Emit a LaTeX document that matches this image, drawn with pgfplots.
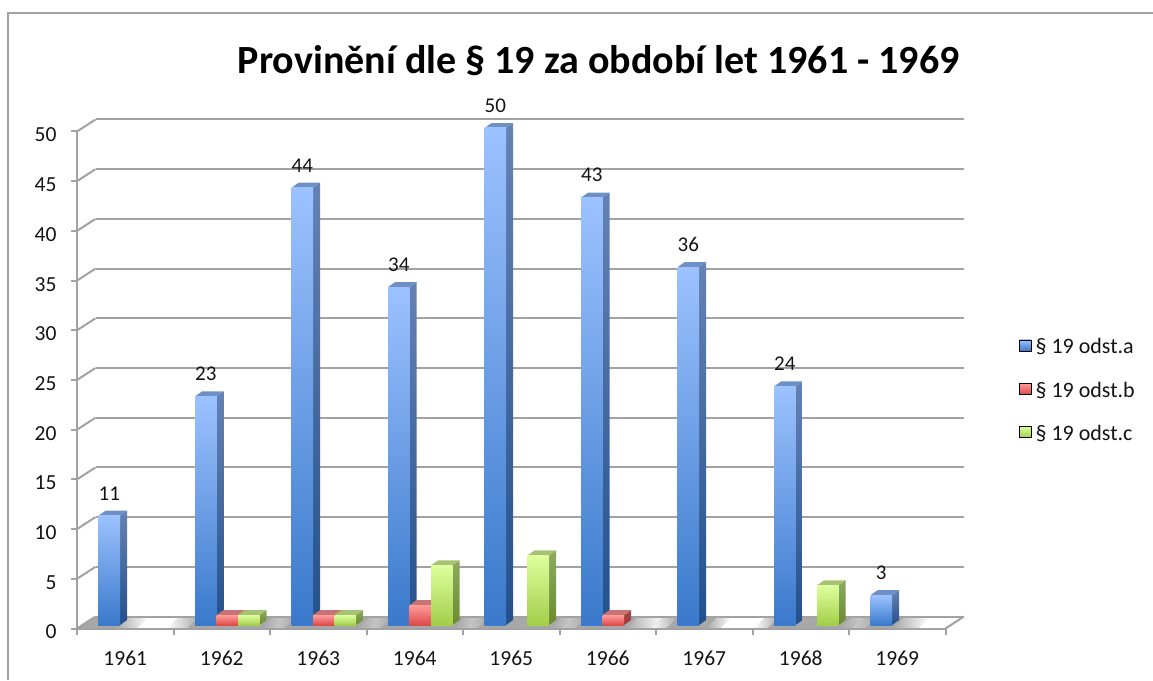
\documentclass[border=0pt]{standalone}
\usepackage{fontspec}
\setmainfont{Carlito}
\usepackage{pgfplots}
\pgfplotsset{compat=1.18}

\definecolor{gridc}{HTML}{A2A2A2}
\definecolor{floorc}{HTML}{A8A8A8}
\definecolor{txt}{HTML}{141414}
\definecolor{atop}{HTML}{9CC2FF}
\definecolor{abot}{HTML}{3A79CB}
\definecolor{asidet}{HTML}{6482B4}
\definecolor{asideb}{HTML}{23508C}
\definecolor{atopf}{HTML}{6F90C6}
\definecolor{btop}{HTML}{FF9C9C}
\definecolor{bbot}{HTML}{DC4A4A}
\definecolor{bsidet}{HTML}{A84C4C}
\definecolor{bsideb}{HTML}{A03232}
\definecolor{btopf}{HTML}{C87474}
\definecolor{ctop}{HTML}{DEFF9E}
\definecolor{cbot}{HTML}{A2CE4A}
\definecolor{csidet}{HTML}{8CAA60}
\definecolor{csideb}{HTML}{6A8A30}
\definecolor{ctopf}{HTML}{A6C272}

% one bar with side and top face: category, bar shift in pt, value, series, extra options
\newcommand\onebar[5][]{%
  \pgfmathsetmacro\xc{#2+0.5}%
  \pgfmathsetmacro\xl{\xc+(#3-10.75)/96.5}%
  \pgfmathsetmacro\xr{\xc+(#3+10.75)/96.5}%
  \pgfmathsetmacro\xld{\xl+0.0735}%
  \pgfmathsetmacro\xrd{\xr+0.0735}%
  \pgfmathsetmacro\yb{0.35}%
  \pgfmathsetmacro\ybd{0.85}%
  \pgfmathsetmacro\yt{#4+0.35}%
  \pgfmathsetmacro\ytd{#4+0.85}%
  \addplot[forget plot,draw=none,top color=#5sidet,bottom color=#5sideb]
    coordinates {(\xr,\yb) (\xrd,\ybd) (\xrd,\ytd) (\xr,\yt)} --cycle;
  \addplot[forget plot,draw=none,fill=#5topf]
    coordinates {(\xl,\yt) (\xld,\ytd) (\xrd,\ytd) (\xr,\yt)} --cycle;
  \addplot[forget plot,ybar,bar width=21.5pt,bar shift=#3pt,draw=none,yshift=3.5pt,
    top color=#5top,bottom color=#5bot,#1] coordinates {(\xc,#4)};
}

% white gaps in the floor, px along the middle of the floor
\newcommand\fade[5][white]{%
  \shade[left color=floorc,right color=#1] (#2-6,628.5) -- (#2+6,616.5) -- (#3+6,616.5) -- (#3-6,628.5) -- cycle;
  \fill[#1] (#3-6,628.5) -- (#3+6,616.5) -- (#4+6,616.5) -- (#4-6,628.5) -- cycle;
  \shade[left color=#1,right color=floorc] (#4-6,628.5) -- (#4+6,616.5) -- (#5+6,616.5) -- (#5-6,628.5) -- cycle;
}

\pgfplotsset{
  lab/.style={nodes near coords,
    every node near coord/.append style={font=\fontsize{21}{25}\selectfont,text=txt,
      anchor=south,xshift=-16pt,yshift=12pt}},
}

\begin{document}
\begin{tikzpicture}
\begin{scope}[shift={(-77pt,628.5pt)},x=1pt,y=-1pt]
  \useasboundingbox (0,0) rectangle (1153,680);
  \draw[gridc,line width=1.6pt] (8,680) -- (8,13) -- (1153,13);
  \fill[floorc] (77,628.5) -- (95.5,616.5) -- (964,616.5) -- (945.5,628.5) -- cycle;
  \fade{121}{143}{173}{193}
  \fade[black!20]{268}{279}{279}{290}
  \fade[black!20]{364}{375}{375}{386}
  \fade[black!20]{460}{472}{472}{483}
  \fade[black!20]{557}{568}{568}{581}
  \fade{632}{657}{657}{672}
  \fade{712}{726}{760}{773}
  \fade[black!20]{846}{858}{858}{871}
  \shade[left color=floorc,right color=white] (893,628.5) -- (905,616.5) -- (930,616.5) -- (918,628.5) -- cycle;
  \fill[white] (918,628.5) -- (930,616.5) -- (964,616.5) -- (945.5,628.5) -- cycle;
\end{scope}
\begin{axis}[
  scale only axis,
  width=868.5pt,
  height=497pt,
  xmin=0,xmax=9,
  ymin=0,ymax=50,
  clip=false,
  axis x line*=bottom,
  axis y line*=left,
  axis line style={gridc,line width=2pt,-},
  tick align=outside,
  major tick length=6pt,
  tick style={gridc,line width=2pt},
  xtick={0,...,9},
  x tick label as interval,
  xticklabels={1961,1962,1963,1964,1965,1966,1967,1968,1969},
  ytick={0,5,...,50},
  ymajorgrids,
  y grid style={gridc,line width=2pt,xshift=18.5pt,yshift=12pt},
  /pgf/number format/assume math mode=true,
  tick label style={font=\fontsize{21.5}{25}\selectfont,text=txt},
  x tick label style={yshift=-13pt},
  y tick label style={xshift=-11pt,yshift=-3.5pt},
  title={\fontsize{40}{46}\selectfont\bfseries Provinění dle § 19 za období let 1961 - 1969},
  title style={at={(0.6008,1.1045)},anchor=base,text=black},
  legend style={at={(1.0846,0.588)},anchor=north west,draw=none,fill=none,
    font=\fontsize{22}{26}\selectfont,text=txt,row sep=22.5pt,inner sep=0pt},
  legend cell align=left,
]
\pgfplotsinvokeforeach{0,5,...,50}{
  \draw[gridc,line width=2pt] (axis cs:0,#1) -- ++(18.5pt,12pt);
}
\draw[gridc,line width=2pt] (axis cs:9,0) -- ++(18.5pt,12pt);

% § 19 odst.a
\onebar[lab]{0}{-16}{11}{a}
\onebar[lab]{1}{-16}{23}{a}
\onebar[lab]{2}{-16}{44}{a}
\onebar[lab]{3}{-16}{34}{a}
\onebar[lab]{4}{-16}{50}{a}
\onebar[lab]{5}{-16}{43}{a}
\onebar[lab]{6}{-16}{36}{a}
\onebar[lab]{7}{-16}{24}{a}
\onebar[lab]{8}{-16}{3}{a}
% § 19 odst.b
\onebar{1}{5.5}{1}{b}
\onebar{2}{5.5}{1}{b}
\onebar{3}{5.5}{2}{b}
\onebar{5}{5.5}{1}{b}
% § 19 odst.c
\onebar{1}{27}{1}{c}
\onebar{2}{27}{1}{c}
\onebar{3}{27}{6}{c}
\onebar{4}{27}{7}{c}
\onebar{7}{27}{4}{c}

\addlegendimage{legend image code/.code={\path[top color=atop,bottom color=abot] (0pt,-4pt) rectangle (12pt,7pt);}}
\addlegendentry{\hspace{2pt}§ 19 odst.a}
\addlegendimage{legend image code/.code={\path[top color=btop,bottom color=bbot] (0pt,-4pt) rectangle (12pt,7pt);}}
\addlegendentry{\hspace{2pt}§ 19 odst.b}
\addlegendimage{legend image code/.code={\path[top color=ctop,bottom color=cbot] (0pt,-4pt) rectangle (12pt,7pt);}}
\addlegendentry{\hspace{2pt}§ 19 odst.c}
\end{axis}
\end{tikzpicture}
\end{document}
